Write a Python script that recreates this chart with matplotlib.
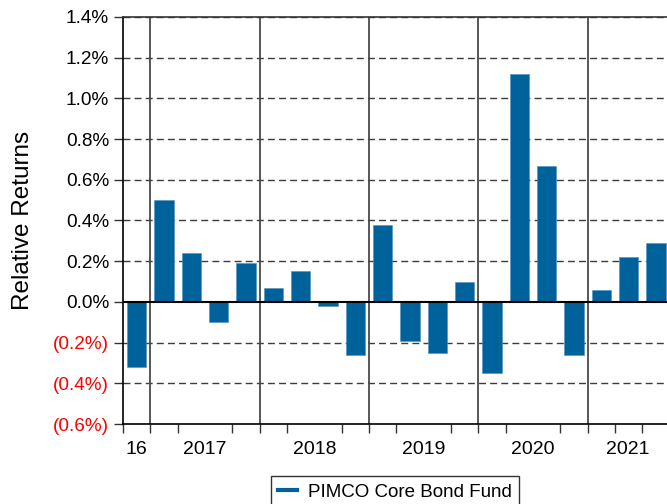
import numpy
import matplotlib
matplotlib.use("Agg")
import matplotlib.pyplot
import matplotlib.ticker
from matplotlib.lines import Line2D

# Quarterly relative returns, Q4 2016 .. Q3 2021 (%)
quarters = [
    "2016Q4",
    "2017Q1", "2017Q2", "2017Q3", "2017Q4",
    "2018Q1", "2018Q2", "2018Q3", "2018Q4",
    "2019Q1", "2019Q2", "2019Q3", "2019Q4",
    "2020Q1", "2020Q2", "2020Q3", "2020Q4",
    "2021Q1", "2021Q2", "2021Q3",
]
returns = [
    -0.32,
    0.50, 0.24, -0.10, 0.19,
    0.07, 0.15, -0.02, -0.26,
    0.38, -0.19, -0.25, 0.10,
    -0.35, 1.12, 0.67, -0.26,
    0.06, 0.22, 0.29,
]

# Year labels and the quarter index they sit over
year_labels = ["16", "2017", "2018", "2019", "2020", "2021"]
year_positions = [0.0, 2.5, 6.5, 10.5, 14.5, 17.95]

# Year separators (between quarters)
year_breaks = [0.5, 4.5, 8.5, 12.5, 16.5]

series_name = "PIMCO Core Bond Fund"
bar_color = "#00629b"

matplotlib.pyplot.rcParams["font.family"] = ["Liberation Sans", "DejaVu Sans"]

fig = matplotlib.pyplot.figure(figsize=(6.67, 5.04), dpi=100)
ax = fig.add_axes([0.1844, 0.1587, 0.8156, 0.8076])

x = numpy.arange(len(quarters))

# Bars
ax.bar(x, returns, width=0.7, color=bar_color, edgecolor="#4f8fbf", linewidth=0.4, zorder=3)

# Limits
ax.set_xlim(-0.5, 19.4)
ax.set_ylim(-0.6, 1.4)

# Dashed grid
for v in numpy.arange(-0.4, 1.41, 0.2):
    if abs(v) < 1e-9:
        continue
    ax.axhline(v, color="#3c3c3c", linestyle=(0, (5, 3)), linewidth=1.0, zorder=1)

# Zero line
ax.axhline(0, color="black", linewidth=1.5, zorder=4)

# Year separators
for b in year_breaks:
    ax.axvline(b, color="#4a4a4a", linewidth=1.3, zorder=2)

# Spines
ax.spines["right"].set_visible(False)
ax.spines["left"].set_color("black")
ax.spines["top"].set_color("#333333")
ax.spines["bottom"].set_color("black")
for s in ax.spines.values():
    s.set_linewidth(1.2)

# Y axis ticks, negatives in brackets and red
ax.yaxis.set_major_locator(matplotlib.ticker.MultipleLocator(0.2))


def fmt(v, pos):
    if v < -1e-9:
        return f"({-v:.1f}%)"
    return f"{abs(v):.1f}%"


ax.yaxis.set_major_formatter(matplotlib.ticker.FuncFormatter(fmt))
ax.tick_params(axis="y", labelsize=13.7, length=6.5, width=1.0, pad=3.5, color="#333333")
fig.canvas.draw()
for t, v in zip(ax.get_yticklabels(), ax.get_yticks()):
    if v < -1e-9:
        t.set_color("red")

# X axis ticks: years as labels, quarter boundaries as minor ticks
ax.set_xticks(year_positions)
ax.set_xticklabels(year_labels)
ax.set_xticks(numpy.arange(-0.5, 19.4, 1.0), minor=True)
ax.tick_params(axis="x", which="major", length=0, labelsize=14, pad=12)
ax.tick_params(axis="x", which="minor", length=6.5, width=1.0, color="#333333")

# Axis label
ax.set_ylabel("Relative Returns", fontsize=17.5, labelpad=14)

# Legend
handle = Line2D([0], [0], color=bar_color, linewidth=3)
leg = ax.legend(
    [handle],
    [series_name],
    loc="upper center",
    bbox_to_anchor=(0.5, -0.105),
    fontsize=13.5,
    frameon=True,
    fancybox=False,
    handlelength=1.0,
    handletextpad=0.6,
    borderpad=0.4,
)
leg.get_frame().set_edgecolor("black")
leg.get_frame().set_linewidth(1.0)

fig.savefig("out.png", dpi=100)
